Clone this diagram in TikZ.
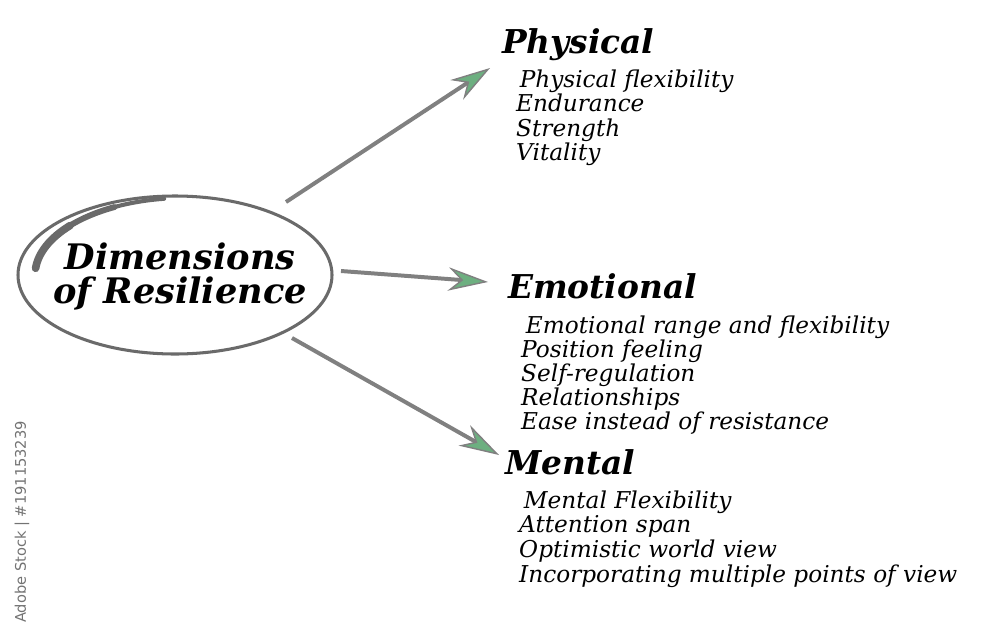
\documentclass[tikz,border=0pt]{standalone}
\usepackage{fontspec}
\setmainfont{DejaVu Serif}
\newfontfamily\stampfont{DejaVu Sans}
\usetikzlibrary{arrows.meta}

\definecolor{shaftgray}{HTML}{808080}
\definecolor{ringgray}{HTML}{6A6A6A}
\definecolor{tipgreen}{HTML}{6DAF80}

\tikzset{
  heading/.style={anchor=base west, inner sep=0pt, font=\fontsize{28}{32}\selectfont\bfseries\itshape},
  item/.style={anchor=base west, inner sep=0pt, font=\fontsize{19.8}{22}\selectfont\itshape},
  title/.style={inner sep=0pt, font=\fontsize{30}{34}\selectfont\bfseries\itshape},
  spoke/.style={draw=shaftgray, line width=3.4pt,
    -{Stealth[length=34pt, width=20pt, inset=11pt, fill=tipgreen, line width=1.2pt]}},
}

\begin{document}
\begin{tikzpicture}[x=0.03cm, y=-0.03cm]
        \useasboundingbox (0,0) rectangle (1000,639);

        % Ring round the title
        \draw[ringgray, line width=2.6pt] (175,275) ellipse [x radius=157, y radius=79];
        \draw[ringgray, line width=6.5pt, line cap=round] (35.6,268.3) arc[start angle=185, end angle=220, x radius=150, y radius=77];
        \draw[ringgray, line width=5pt, line cap=round] (35.6,268.3) arc[start angle=185, end angle=242, x radius=150, y radius=77];
        \draw[ringgray, line width=3.5pt, line cap=round] (35.6,268.3) arc[start angle=185, end angle=262, x radius=150, y radius=77];
        \node[title] (dimsA) at (180,256) {Dimensions};
        \node[title] (dimsB) at (180,293) {of Resilience};

        % Headings
        \node[heading] (phys) at (502,53) {Physical};
        \node[heading] (emo) at (508,298) {Emotional};
        \node[heading] (ment) at (505,474) {Mental};

        % Items
        \foreach \t [count=\i] in {\hspace{3pt}Physical flexibility, Endurance, Strength, Vitality}
            \node[item] (phys\i) at (516,{87+24.5*(\i-1)}) {\t};
        \foreach \t [count=\i] in {\hspace{4pt}Emotional range and flexibility, Position feeling, Self-regulation, Relationships, Ease instead of resistance}
            \node[item] (emo\i) at (521,{333+24.2*(\i-1)}) {\t};
        \foreach \t [count=\i] in {\hspace{4pt}Mental Flexibility, Attention span, Optimistic world view, Incorporating multiple points of view}
            \node[item] (ment\i) at (519,{508+24.7*(\i-1)}) {\t};

        % Spokes
        \coordinate (s1) at (286,202);
        \coordinate (s2) at (341,271);
        \coordinate (s3) at (292,338);
        \draw[spoke] (s1) -- ([shift={(-12,15)}]phys.base west);
        \draw[spoke] (s2) -- ([shift={(-20,-16)}]emo.base west);
        \draw[spoke] (s3) -- ([shift={(-6,-19)}]ment.base west);

        % Stock stamp
        \node[rotate=90, gray!90!black, inner sep=0pt, font=\stampfont\fontsize{12.5}{14}\selectfont] (stamp) at (22,522) {Adobe Stock | \#191153239};
    \end{tikzpicture}
\end{document}
